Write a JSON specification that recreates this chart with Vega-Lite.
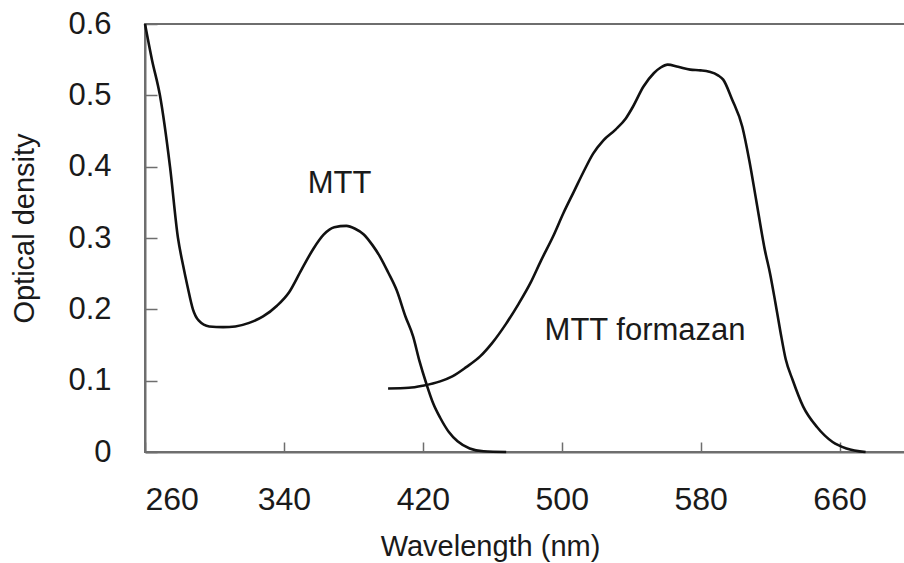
{
  "$schema": "https://vega.github.io/schema/vega-lite/v6.json",
  "autosize": "none",
  "padding": {"left": 145, "top": 24, "right": 0, "bottom": 111},
  "width": 764,
  "height": 428,
  "background": "white",
  "config": {
    "view": {"stroke": "#6e6e6e", "strokeWidth": 2},
    "font": "Liberation Sans",
    "axis": {"grid": false, "domainColor": "#6e6e6e", "domainWidth": 2, "tickColor": "#6e6e6e", "tickWidth": 1.5, "labelColor": "#1a1a1a", "titleColor": "#1a1a1a", "labelFontSize": 31, "titleFontSize": 30, "titleFontWeight": "normal", "labelFont": "Liberation Sans", "titleFont": "Liberation Sans"}
  },
  "datasets": {
    "curves": [
      {"series": "MTT", "nm": 260, "od": 0.6},
      {"series": "MTT", "nm": 264, "od": 0.55},
      {"series": "MTT", "nm": 268.6, "od": 0.5},
      {"series": "MTT", "nm": 274.4, "od": 0.4},
      {"series": "MTT", "nm": 279, "od": 0.3},
      {"series": "MTT", "nm": 281.9, "od": 0.262},
      {"series": "MTT", "nm": 284.5, "od": 0.232},
      {"series": "MTT", "nm": 287.6, "od": 0.2},
      {"series": "MTT", "nm": 291, "od": 0.184},
      {"series": "MTT", "nm": 297, "od": 0.176},
      {"series": "MTT", "nm": 305, "od": 0.175},
      {"series": "MTT", "nm": 312, "od": 0.176},
      {"series": "MTT", "nm": 320, "od": 0.181},
      {"series": "MTT", "nm": 328, "od": 0.19},
      {"series": "MTT", "nm": 336, "od": 0.205},
      {"series": "MTT", "nm": 343, "od": 0.224},
      {"series": "MTT", "nm": 350, "od": 0.255},
      {"series": "MTT", "nm": 357, "od": 0.285},
      {"series": "MTT", "nm": 363, "od": 0.305},
      {"series": "MTT", "nm": 369, "od": 0.315},
      {"series": "MTT", "nm": 376, "od": 0.317},
      {"series": "MTT", "nm": 381, "od": 0.313},
      {"series": "MTT", "nm": 386, "od": 0.305},
      {"series": "MTT", "nm": 391, "od": 0.29},
      {"series": "MTT", "nm": 395.3, "od": 0.274},
      {"series": "MTT", "nm": 400, "od": 0.252},
      {"series": "MTT", "nm": 404.9, "od": 0.227},
      {"series": "MTT", "nm": 410, "od": 0.19},
      {"series": "MTT", "nm": 414.4, "od": 0.162},
      {"series": "MTT", "nm": 418, "od": 0.128},
      {"series": "MTT", "nm": 422, "od": 0.096},
      {"series": "MTT", "nm": 426, "od": 0.068},
      {"series": "MTT", "nm": 430, "od": 0.048},
      {"series": "MTT", "nm": 435, "od": 0.028},
      {"series": "MTT", "nm": 440, "od": 0.015},
      {"series": "MTT", "nm": 447, "od": 0.005},
      {"series": "MTT", "nm": 455, "od": 0.001},
      {"series": "MTT", "nm": 468, "od": 0},
      {"series": "MTT formazan", "nm": 400, "od": 0.089},
      {"series": "MTT formazan", "nm": 412, "od": 0.09},
      {"series": "MTT formazan", "nm": 420, "od": 0.093},
      {"series": "MTT formazan", "nm": 430, "od": 0.099},
      {"series": "MTT formazan", "nm": 437, "od": 0.106},
      {"series": "MTT formazan", "nm": 445, "od": 0.119},
      {"series": "MTT formazan", "nm": 453, "od": 0.134},
      {"series": "MTT formazan", "nm": 460, "od": 0.153},
      {"series": "MTT formazan", "nm": 468, "od": 0.18},
      {"series": "MTT formazan", "nm": 475, "od": 0.207},
      {"series": "MTT formazan", "nm": 482, "od": 0.237},
      {"series": "MTT formazan", "nm": 488, "od": 0.268},
      {"series": "MTT formazan", "nm": 495, "od": 0.302},
      {"series": "MTT formazan", "nm": 501, "od": 0.335},
      {"series": "MTT formazan", "nm": 507, "od": 0.365},
      {"series": "MTT formazan", "nm": 513, "od": 0.395},
      {"series": "MTT formazan", "nm": 518, "od": 0.418},
      {"series": "MTT formazan", "nm": 524, "od": 0.437},
      {"series": "MTT formazan", "nm": 531, "od": 0.452},
      {"series": "MTT formazan", "nm": 537, "od": 0.468},
      {"series": "MTT formazan", "nm": 541, "od": 0.484},
      {"series": "MTT formazan", "nm": 547, "od": 0.512},
      {"series": "MTT formazan", "nm": 553, "od": 0.531},
      {"series": "MTT formazan", "nm": 557, "od": 0.539},
      {"series": "MTT formazan", "nm": 561, "od": 0.543},
      {"series": "MTT formazan", "nm": 567, "od": 0.54},
      {"series": "MTT formazan", "nm": 574, "od": 0.536},
      {"series": "MTT formazan", "nm": 580, "od": 0.535},
      {"series": "MTT formazan", "nm": 585, "od": 0.533},
      {"series": "MTT formazan", "nm": 590, "od": 0.528},
      {"series": "MTT formazan", "nm": 593, "od": 0.522},
      {"series": "MTT formazan", "nm": 598, "od": 0.495},
      {"series": "MTT formazan", "nm": 604, "od": 0.456},
      {"series": "MTT formazan", "nm": 608, "od": 0.409},
      {"series": "MTT formazan", "nm": 612, "od": 0.353},
      {"series": "MTT formazan", "nm": 617, "od": 0.283},
      {"series": "MTT formazan", "nm": 620, "od": 0.25},
      {"series": "MTT formazan", "nm": 623, "od": 0.21},
      {"series": "MTT formazan", "nm": 626, "od": 0.168},
      {"series": "MTT formazan", "nm": 629, "od": 0.13},
      {"series": "MTT formazan", "nm": 633, "od": 0.101},
      {"series": "MTT formazan", "nm": 639, "od": 0.064},
      {"series": "MTT formazan", "nm": 647, "od": 0.035},
      {"series": "MTT formazan", "nm": 656, "od": 0.014},
      {"series": "MTT formazan", "nm": 664, "od": 0.005},
      {"series": "MTT formazan", "nm": 675, "od": 0}
    ],
    "labels": [
      {"label": "MTT", "nm": 372, "od": 0.363},
      {"label": "MTT formazan", "nm": 548, "od": 0.157}
    ]
  },
  "layer": [
    {
      "data": {"name": "curves"},
      "mark": {"type": "line", "color": "#111111", "strokeWidth": 2.6, "interpolate": "monotone"},
      "encoding": {
        "x": {"field": "nm", "type": "quantitative", "scale": {"domain": [260, 700], "nice": false, "zero": false},
          "axis": {"title": "Wavelength (nm)", "values": [260, 340, 420, 500, 580, 660], "tickSize": -10, "labelPadding": 42, "labelFontSize": 32, "titleX": 345, "titleY": 103, "titleFontSize": 29, "titleBaseline": "alphabetic", "titleAnchor": null, "titleAlign": "center"}},
        "y": {"field": "od", "type": "quantitative", "scale": {"domain": [0, 0.6], "nice": false},
          "axis": {"title": "Optical density", "values": [0, 0.1, 0.2, 0.3, 0.4, 0.5, 0.6], "labelExpr": "datum.value == 0 ? '0' : format(datum.value, '.1f')", "tickSize": -12, "labelPadding": 46, "titleX": -112, "titleY": 204, "titleBaseline": "alphabetic", "titleAlign": "center", "titleAngle": 270, "titleFontSize": 29}},
        "detail": {"field": "series"}
      }
    },
    {
      "data": {"name": "labels"},
      "mark": {"type": "text", "font": "Liberation Sans", "fontSize": 31, "color": "#1a1a1a", "align": "center", "baseline": "alphabetic"},
      "encoding": {
        "x": {"field": "nm", "type": "quantitative"},
        "y": {"field": "od", "type": "quantitative"},
        "text": {"field": "label"}
      }
    }
  ]
}
